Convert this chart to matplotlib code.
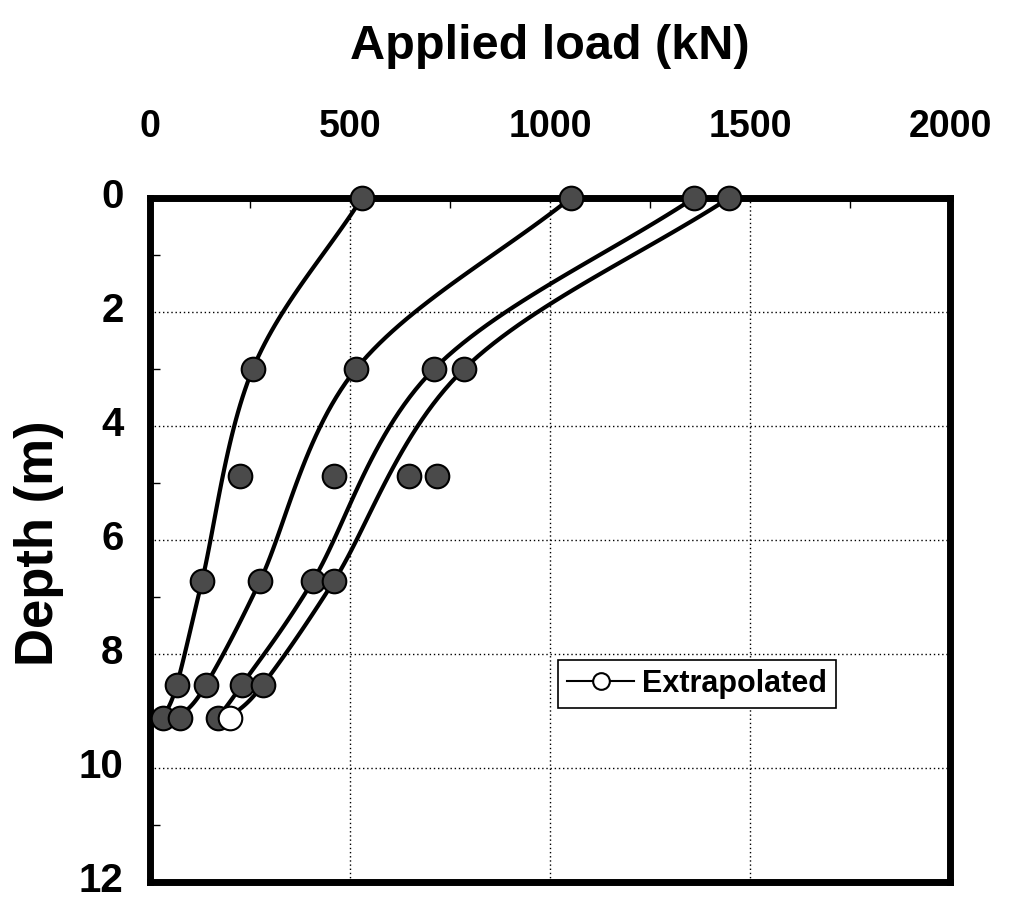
import numpy as np
import matplotlib
matplotlib.use('Agg')
import matplotlib.pyplot as plt
from matplotlib.lines import Line2D
from matplotlib.ticker import MultipleLocator
from matplotlib.transforms import ScaledTranslation

plt.rcParams['font.family'] = ['Liberation Sans', 'DejaVu Sans']
plt.rcParams['font.weight'] = 'bold'

# depths (m) of the points joined by the curves
depth = [0.0, 3.0, 6.72, 8.54, 9.12]
# applied load (kN) at those depths, one list per load step
load_1 = [530, 257, 130, 67, 33]
load_2 = [1052, 515, 275, 140, 75]
load_3 = [1360, 710, 407, 230, 170]
load_4 = [1448, 785, 460, 282, 200]   # last value is extrapolated
# readings at 4.88 m that the curves do not go through
depth_extra = [4.88, 4.88, 4.88, 4.88]
load_extra = [225, 460, 648, 717]

x_ticks = [0, 500, 1000, 1500, 2000]
y_ticks = [0, 2, 4, 6, 8, 10, 12]
legend_label = 'Extrapolated'


def smooth(x, y, n=30):
    # Catmull-Rom curve through the points, like a smoothed line in a spreadsheet
    x = np.asarray(x, float)
    y = np.asarray(y, float)
    px = np.concatenate([[2 * x[0] - x[1]], x, [2 * x[-1] - x[-2]]])
    py = np.concatenate([[2 * y[0] - y[1]], y, [2 * y[-1] - y[-2]]])
    t = np.linspace(0, 1, n)
    xs, ys = [], []
    for i in range(1, len(px) - 2):
        for p, out in ((px, xs), (py, ys)):
            p0, p1, p2, p3 = p[i - 1], p[i], p[i + 1], p[i + 2]
            out.extend(0.5 * ((2 * p1) + (-p0 + p2) * t
                              + (2 * p0 - 5 * p1 + 4 * p2 - p3) * t ** 2
                              + (-p0 + 3 * p1 - 3 * p2 + p3) * t ** 3))
    return xs, ys


fig = plt.figure(figsize=(10.19, 9.02), dpi=100)
ax = fig.add_axes([0.1472, 0.0222, 0.7851, 0.7583])

face = '#4a4a4a'
ms = 17
for loads in (load_1, load_2, load_3, load_4):
    sx, sy = smooth(loads, depth)
    ax.plot(sx, sy, color='black', lw=3, zorder=3, clip_on=False)

for loads in (load_1, load_2, load_3):
    ax.plot(loads, depth, ls='none', marker='o', ms=ms, mfc=face, mec='black',
            mew=1.5, zorder=4, clip_on=False)
ax.plot(load_4[:-1], depth[:-1], ls='none', marker='o', ms=ms, mfc=face,
        mec='black', mew=1.5, zorder=4, clip_on=False)
ax.plot(load_4[-1:], depth[-1:], ls='none', marker='o', ms=ms, mfc='white',
        mec='black', mew=1.5, zorder=5, clip_on=False)
ax.plot(load_extra, depth_extra, ls='none', marker='o', ms=ms, mfc=face,
        mec='black', mew=1.5, zorder=4, clip_on=False)

ax.set_xlim(0, 2000)
ax.set_ylim(12, 0)
ax.xaxis.tick_top()
ax.xaxis.set_label_position('top')
ax.set_xticks(x_ticks)
ax.set_yticks(y_ticks)
ax.xaxis.set_minor_locator(MultipleLocator(250))
ax.yaxis.set_minor_locator(MultipleLocator(1))
ax.tick_params(axis='x', which='major', labelsize=27, pad=38, direction='in', length=0)
ax.tick_params(axis='y', which='major', labelsize=29, pad=19, direction='in', length=0)
ax.tick_params(which='minor', direction='in', length=7, width=1, top=True, left=True,
               bottom=False, right=False)
for lab in ax.get_xticklabels():
    lab.set_fontweight('bold')
lift = ScaledTranslation(0, 5 / 100, fig.dpi_scale_trans)
for lab in ax.get_yticklabels():
    lab.set_fontweight('bold')
    lab.set_transform(lab.get_transform() + lift)

ax.grid(True, which='major', color='black', ls=(0, (1, 2)), lw=1)
for s in ax.spines.values():
    s.set_linewidth(5)

ax.set_xlabel('Applied load (kN)', fontsize=35, fontweight='bold', labelpad=36)
ax.set_ylabel('Depth (m)', fontsize=38, fontweight='bold')
ax.yaxis.set_label_coords(-0.108, 0.495)

handle = Line2D([], [], color='black', lw=1.5, marker='o', ms=12, mfc='white',
                mec='black', mew=1.5)
leg = ax.legend([handle], [legend_label], loc='upper left',
                bbox_to_anchor=(0.51, 0.325), fancybox=False, framealpha=1,
                edgecolor='black', prop={'size': 22, 'weight': 'bold'},
                handlelength=2.2, handletextpad=0.25, borderpad=0.3,
                borderaxespad=0)
leg.get_frame().set_linewidth(1.2)

fig.savefig('out.png', dpi=100)
